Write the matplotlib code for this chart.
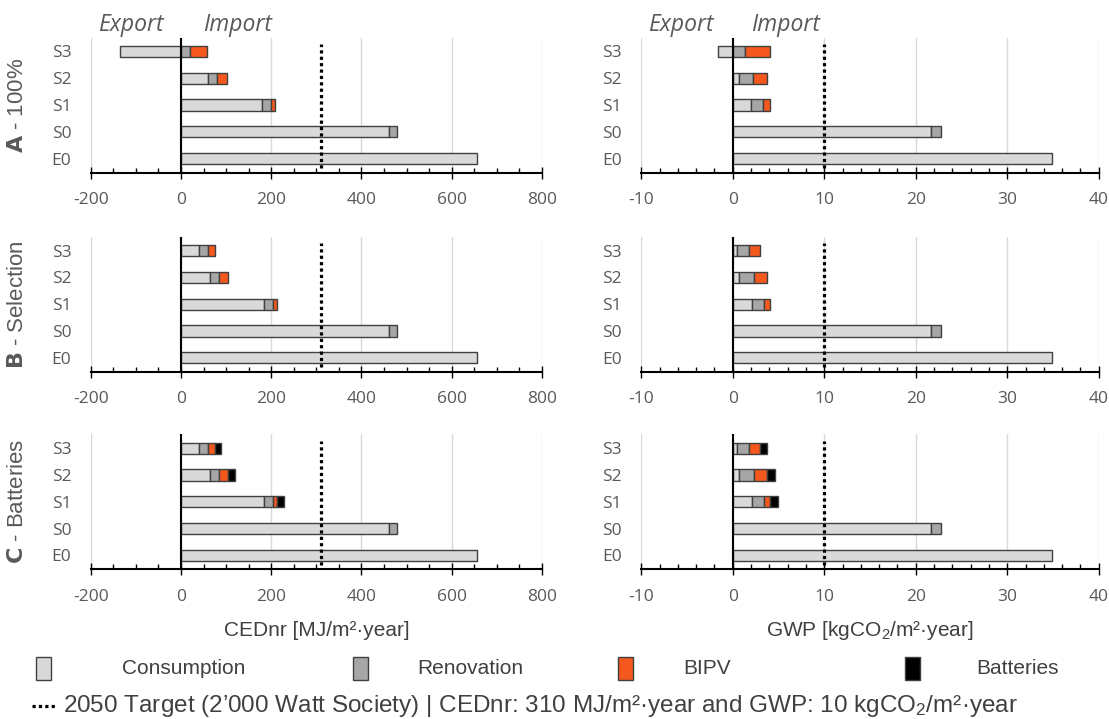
import matplotlib
matplotlib.use("Agg")
import matplotlib.pyplot as plt
from matplotlib.patches import Rectangle
from matplotlib.lines import Line2D
import numpy as np

plt.rcParams['mathtext.fontset'] = 'custom'
plt.rcParams['mathtext.rm'] = 'Liberation Sans'
plt.rcParams['mathtext.it'] = 'Liberation Sans:italic'
plt.rcParams['axes.unicode_minus'] = False

# ---------------- data ----------------
scenarios = ['E0', 'S0', 'S1', 'S2', 'S3']
row_labels = ['A', 'B', 'C']
row_names = [' - 100%', ' - Selection', ' - Batteries']
segments = ['Consumption', 'Renovation', 'BIPV', 'Batteries']

# CEDnr [MJ/m2 year]
ced_cons_A = [655, 460, 179, 60, -136]
ced_reno_A = [0, 19, 20, 20, 20]
ced_bipv_A = [0, 0, 9, 21, 38]
ced_batt_A = [0, 0, 0, 0, 0]

ced_cons_B = [655, 460, 185, 65, 40]
ced_reno_B = [0, 19, 20, 20, 19]
ced_bipv_B = [0, 0, 8, 20, 16]
ced_batt_B = [0, 0, 0, 0, 0]

ced_cons_C = [655, 460, 185, 65, 40]
ced_reno_C = [0, 19, 20, 20, 19]
ced_bipv_C = [0, 0, 8, 20, 16]
ced_batt_C = [0, 0, 15, 14, 13]

# GWP [kgCO2/m2 year]
gwp_cons_A = [34.9, 21.7, 2.0, 0.66, -1.58]
gwp_reno_A = [0, 1.1, 1.35, 1.58, 1.36]
gwp_bipv_A = [0, 0, 0.77, 1.55, 2.76]
gwp_batt_A = [0, 0, 0, 0, 0]

gwp_cons_B = [34.9, 21.7, 2.06, 0.66, 0.44]
gwp_reno_B = [0, 1.1, 1.36, 1.62, 1.32]
gwp_bipv_B = [0, 0, 0.66, 1.51, 1.17]
gwp_batt_B = [0, 0, 0, 0, 0]

gwp_cons_C = [34.9, 21.7, 2.06, 0.66, 0.44]
gwp_reno_C = [0, 1.1, 1.36, 1.62, 1.32]
gwp_bipv_C = [0, 0, 0.66, 1.45, 1.17]
gwp_batt_C = [0, 0, 0.9, 0.85, 0.84]

ced_target = 310
gwp_target = 10

ced_data = [
    [ced_cons_A, ced_reno_A, ced_bipv_A, ced_batt_A],
    [ced_cons_B, ced_reno_B, ced_bipv_B, ced_batt_B],
    [ced_cons_C, ced_reno_C, ced_bipv_C, ced_batt_C],
]
gwp_data = [
    [gwp_cons_A, gwp_reno_A, gwp_bipv_A, gwp_batt_A],
    [gwp_cons_B, gwp_reno_B, gwp_bipv_B, gwp_batt_B],
    [gwp_cons_C, gwp_reno_C, gwp_bipv_C, gwp_batt_C],
]

colors = ['#d9d9d9', '#a6a6a6', '#f4581c', '#000000']
edge = '#404040'
txt_gray = '#595959'
tick_font = 'Open Sans'
label_font = 'Liberation Sans'

W, H = 1109, 719
fig = plt.figure(figsize=(W / 100, H / 100), dpi=100)

ax_h = 135 / H
bottoms_px = [172.5, 371.7, 569.3]
left_px, left_w = 90.7, 451.3
right_px, right_w = 641.2, 457.5


def draw_panel(ax, data, xlim, major, minor, target):
    y = np.arange(len(scenarios))
    cons = np.array(data[0], dtype=float)
    # consumption from zero (can be negative = export)
    ax.barh(y, cons, left=0, height=0.42, color=colors[0], edgecolor=edge,
            linewidth=1, zorder=3)
    cum = np.maximum(cons, 0)
    for k in range(1, 4):
        vals = np.array(data[k], dtype=float)
        mask = vals > 0
        if mask.any():
            ax.barh(y[mask], vals[mask], left=cum[mask], height=0.42,
                    color=colors[k], edgecolor=edge, linewidth=1, zorder=3)
        cum = cum + vals
    ax.set_xlim(*xlim)
    ax.set_ylim(-0.52, 4.52)
    ax.set_xticks(np.arange(xlim[0], xlim[1] + 0.001, major))
    ax.set_xticks(np.arange(xlim[0], xlim[1] + 0.001, minor), minor=True)
    ax.set_yticks(y)
    ax.set_yticklabels(scenarios)
    for s in ['top', 'right', 'left']:
        ax.spines[s].set_visible(False)
    ax.spines['bottom'].set_linewidth(1.5)
    ax.spines['bottom'].set_zorder(5)
    ax.axvline(0, color='black', lw=1.5, zorder=4)
    ax.xaxis.grid(True, which='major', color='#d9d9d9', lw=1, zorder=0)
    ax.set_axisbelow(True)
    ax.tick_params(axis='x', which='major', direction='inout', length=8,
                   width=1, color='black', pad=10, labelsize=12.5,
                   labelcolor=txt_gray)
    ax.tick_params(axis='x', which='minor', direction='in', length=3.5,
                   width=1, color='black')
    ax.tick_params(axis='y', length=0, pad=14, labelsize=12.5,
                   labelcolor=txt_gray)
    for lab in ax.get_xticklabels() + ax.get_yticklabels():
        lab.set_fontfamily(tick_font)
    ax.plot([target, target], [-0.35, 4.28], color='black', lw=2.3,
            linestyle=(0, (1, 1)), zorder=6, solid_capstyle='butt')


for r in range(3):
    b = (H - bottoms_px[r]) / H
    axl = fig.add_axes([left_px / W, b, left_w / W, ax_h])
    axr = fig.add_axes([right_px / W, b, right_w / W, ax_h])
    draw_panel(axl, ced_data[r], (-200, 800), 200, 50, ced_target)
    draw_panel(axr, gwp_data[r], (-10, 40), 10, 2, gwp_target)
    # row label
    yc = b + ax_h / 2
    fig.text(18 / W, yc, r'$\bf{' + row_labels[r] + '}$' + row_names[r],
             rotation=90, ha='center', va='center', fontsize=16,
             color=txt_gray, family=label_font)

# Export / Import headers
for xe, xi in [(131, 237), (681, 785)]:
    fig.text(xe / W, 1 - 31 / H, 'Export', ha='center', va='baseline',
             fontsize=16.5, style='italic', color=txt_gray, family=tick_font)
    fig.text(xi / W, 1 - 31 / H, 'Import', ha='center', va='baseline',
             fontsize=16.5, style='italic', color=txt_gray, family=tick_font)

# axis titles
fig.text((left_px + left_w / 2) / W, 1 - 631 / H, 'CEDnr [MJ/m²·year]',
         ha='center', va='center', fontsize=15, color='#404040',
         family=label_font)
fig.text((right_px + right_w / 2) / W, 1 - 631 / H,
         r'GWP [kgCO$_2$/m²·year]', ha='center', va='center', fontsize=15,
         color='#404040', family=label_font)

# legend
patch_x = [36, 353, 618, 905]
text_x = [122, 417, 683, 976]
for k in range(4):
    fig.patches.append(Rectangle((patch_x[k] / W, 1 - 680 / H), 15 / W,
                                 23 / H, transform=fig.transFigure,
                                 facecolor=colors[k], edgecolor=edge, lw=1))
    fig.text(text_x[k] / W, 1 - 668 / H, segments[k], ha='left',
             va='center', fontsize=15, color='#404040', family=label_font)

fig.lines.append(Line2D([32 / W, 57 / W], [1 - 706 / H, 1 - 706 / H],
                        transform=fig.transFigure, color='black', lw=2.3,
                        linestyle=(0, (1, 1))))
fig.text(63 / W, 1 - 706 / H,
         r'2050 Target (2’000 Watt Society) | CEDnr: 310 MJ/m²·year and GWP: 10 kgCO$_2$/m²·year',
         ha='left', va='center', fontsize=17.5, color='#404040',
         family=label_font)

fig.savefig('out.png', dpi=100)
